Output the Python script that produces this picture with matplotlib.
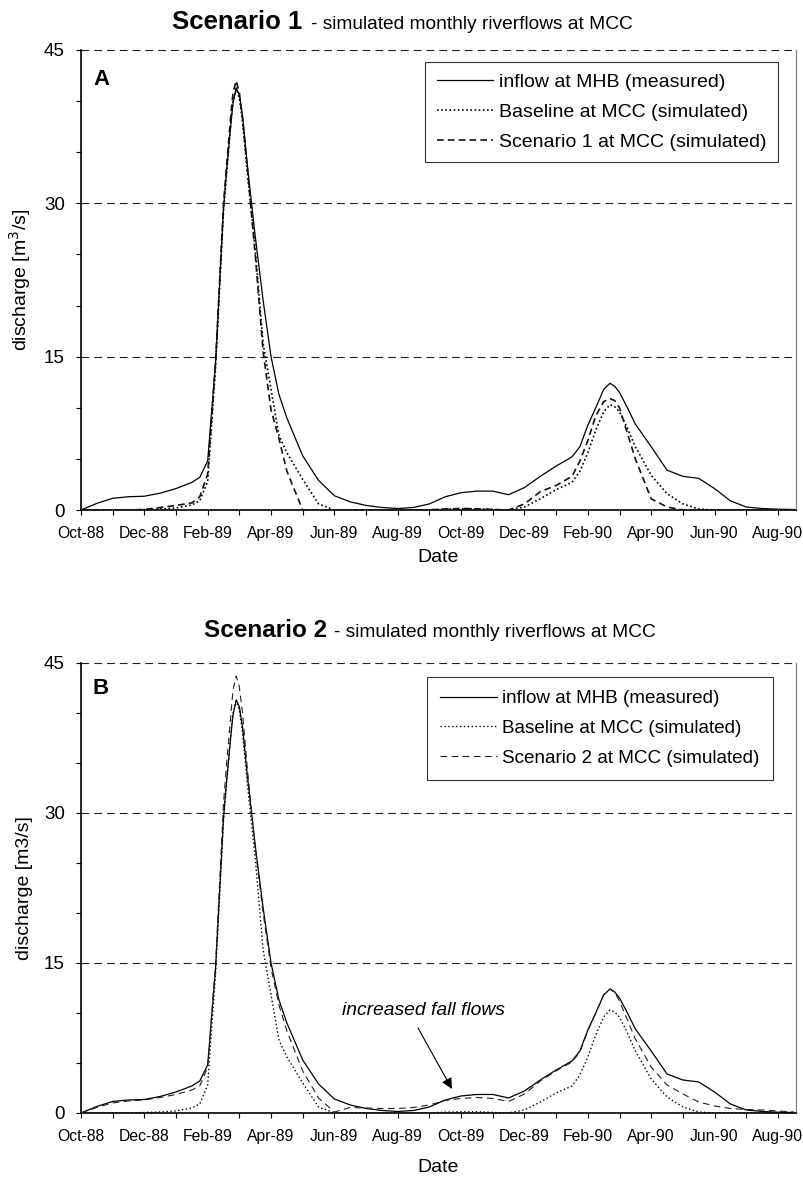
import matplotlib
matplotlib.use("Agg")
import matplotlib.pyplot as plt

plt.rcParams['font.family'] = ['Liberation Sans', 'DejaVu Sans']

# months since Oct-88 (x positions of the readings)
MONTHS = [0, 0.5, 1, 1.5, 2, 2.5, 3, 3.5, 3.75, 4, 4.25, 4.5, 4.6, 4.75, 4.8, 4.9, 5, 5.1, 5.25, 5.5, 5.75,
          6, 6.25, 6.5, 7, 7.5, 8, 8.5, 9, 9.5, 10, 10.5, 11, 11.5, 12, 12.5, 13, 13.5, 14,
          14.5, 15, 15.5, 15.75, 16, 16.25, 16.5, 16.7, 16.85, 17, 17.25, 17.5, 18, 18.5, 19, 19.5,
          20, 20.5, 21, 21.5, 22, 22.5]

INFLOW = [0, 0.65, 1.15, 1.3, 1.35, 1.65, 2.1, 2.7, 3.2, 4.8, 14.5, 29.5, 33.3, 38.3, 39.8, 41.3, 40.6, 38.6, 33.8, 26.8, 20.5,
          15.0, 11.3, 9.0, 5.3, 2.9, 1.4, 0.8, 0.45, 0.25, 0.15, 0.25, 0.6, 1.3, 1.7, 1.85, 1.85, 1.5, 2.2,
          3.3, 4.3, 5.2, 6.2, 8.3, 10.0, 11.8, 12.4, 12.1, 11.5, 10.0, 8.4, 6.2, 3.9, 3.3, 3.1,
          2.1, 0.9, 0.3, 0.15, 0.08, 0.05]

BASELINE = [0, 0, 0, 0, 0.05, 0.1, 0.2, 0.5, 0.9, 2.8, 14.0, 29.3, 33.0, 38.6, 40.0, 41.2, 40.3, 38.0, 33.0, 25.5, 16.3,
            11.8, 7.3, 5.6, 3.0, 0.6, 0, 0, 0, 0, 0, 0, 0.02, 0.08, 0.12, 0.12, 0.05, 0, 0.3,
            1.1, 2.0, 2.7, 3.8, 5.6, 7.8, 9.6, 10.3, 10.1, 9.6, 8.0, 6.2, 3.4, 1.6, 0.6, 0.1,
            0, 0, 0, 0, 0, 0]

SCEN1 = [0, 0, 0, 0, 0.05, 0.25, 0.45, 0.7, 1.3, 3.5, 14.5, 30.0, 33.8, 39.3, 40.8, 42.0, 40.8, 38.3, 33.5, 25.0, 15.5,
         9.8, 7.0, 3.8, 0, 0, 0, 0, 0, 0, 0, 0, 0.02, 0.1, 0.15, 0.12, 0.05, 0, 0.6,
         1.8, 2.4, 3.3, 4.8, 6.8, 9.2, 10.6, 10.9, 10.7, 10.0, 7.5, 5.0, 1.1, 0.3, 0, 0,
         0, 0, 0, 0, 0, 0]

SCEN2 = [0, 0.55, 1.0, 1.2, 1.3, 1.55, 1.85, 2.3, 2.7, 4.6, 15.0, 31.0, 35.0, 40.5, 42.3, 43.7, 42.6, 40.0, 34.5, 26.5, 20.0,
         14.5, 10.8, 8.2, 4.2, 1.5, 0.1, 0.55, 0.5, 0.45, 0.45, 0.55, 0.8, 1.25, 1.45, 1.55, 1.45, 1.15, 1.9,
         3.2, 4.2, 5.1, 6.1, 8.2, 10.0, 11.8, 12.4, 12.0, 11.2, 9.3, 7.4, 4.6, 2.8, 1.9, 1.1,
         0.7, 0.45, 0.35, 0.3, 0.2, 0.1]

TICK_POS = [0, 2, 4, 6, 8, 10, 12, 14, 16, 18, 20, 22]
TICK_LABELS = ['Oct-88', 'Dec-88', 'Feb-89', 'Apr-89', 'Jun-89', 'Aug-89',
               'Oct-89', 'Dec-89', 'Feb-90', 'Apr-90', 'Jun-90', 'Aug-90']
GRID_LEVELS = [15, 30, 45]


def style_axes(ax, ylab, date_y):
    ax.set_xlim(0, 22.57)
    ax.set_ylim(0, 45)
    ax.spines['top'].set_visible(False)
    ax.spines['right'].set_color('#808080')
    ax.spines['right'].set_linewidth(0.9)
    ax.spines['left'].set_linewidth(1.2)
    ax.spines['bottom'].set_linewidth(1.2)
    for lev in GRID_LEVELS:
        ax.axhline(lev, color='#222222', ls=(0, (7, 4.5)), lw=0.8, clip_on=False, zorder=1)
    ax.set_xticks(TICK_POS)
    ax.set_xticklabels(TICK_LABELS)
    ax.set_xticks(range(0, 23), minor=True)
    ax.set_yticks([0, 15, 30, 45])
    ax.set_yticks(range(0, 46, 5), minor=True)
    ax.tick_params(which='both', direction='out', length=3.6, width=0.8, color='black')
    ax.tick_params(axis='y', labelsize=13.5, pad=8)
    ax.tick_params(axis='x', labelsize=11.3, pad=8)
    ax.set_ylabel(ylab, fontsize=14)
    ax.yaxis.set_label_coords(-0.067, 0.5)
    ax.set_xlabel('Date', fontsize=14)
    ax.xaxis.set_label_coords(0.5, date_y)


fig = plt.figure(figsize=(8.04, 11.79), dpi=100)

# --- panel A
ax1 = fig.add_axes([0.1007, 0.5674, 0.8893, 0.3902])
ax1.plot(MONTHS, INFLOW, color='black', lw=0.9, label='inflow at MHB (measured)', zorder=3)
ax1.plot(MONTHS, BASELINE, color='black', lw=1.2, ls=(0, (1, 1.5)), label='Baseline at MCC (simulated)', zorder=3)
ax1.plot(MONTHS, SCEN1, color='#111111', lw=1.2, ls=(0, (4, 2.5)), label='Scenario 1 at MCC (simulated)', zorder=3)
style_axes(ax1, 'discharge [m$^3$/s]', -0.084)
leg = ax1.legend(loc='upper right', bbox_to_anchor=(0.9748, 0.974), borderaxespad=0, fontsize=14,
                 frameon=True, fancybox=False, edgecolor='black', handlelength=2.9,
                 handletextpad=0.28, labelspacing=0.62, borderpad=0.6)
leg.get_frame().set_linewidth(0.8)
ax1.text(0.0168, 0.924, 'A', transform=ax1.transAxes, fontsize=16, fontweight='bold')
fig.text(302 / 804, 0.975, 'Scenario 1', fontsize=18.5, fontweight='bold', ha='right', va='baseline')
fig.text(311 / 804, 0.975, '- simulated monthly riverflows at MCC', fontsize=13.8, ha='left', va='baseline')

# --- panel B
ax2 = fig.add_axes([0.1007, 0.0560, 0.8893, 0.3817])
ax2.plot(MONTHS, INFLOW, color='black', lw=0.9, label='inflow at MHB (measured)', zorder=3)
ax2.plot(MONTHS, BASELINE, color='black', lw=1.0, ls=(0, (1, 1.8)), label='Baseline at MCC (simulated)', zorder=3)
ax2.plot(MONTHS, SCEN2, color='#222222', lw=0.8, ls=(0, (6, 4)), label='Scenario 2 at MCC (simulated)', zorder=3)
style_axes(ax2, 'discharge [m3/s]', -0.102)
leg = ax2.legend(loc='upper right', bbox_to_anchor=(0.9678, 0.969), borderaxespad=0, fontsize=13.6,
                 frameon=True, fancybox=False, edgecolor='black', handlelength=3.0,
                 handletextpad=0.3, labelspacing=0.66, borderpad=0.7)
leg.get_frame().set_linewidth(0.8)
ax2.text(0.0165, 0.931, 'B', transform=ax2.transAxes, fontsize=16, fontweight='bold')
fig.text(327 / 804, 1 - 637 / 1179, 'Scenario 2', fontsize=17.5, fontweight='bold', ha='right', va='baseline')
fig.text(334 / 804, 1 - 637 / 1179, '- simulated monthly riverflows at MCC', fontsize=13.8, ha='left', va='baseline')

# annotation for the fall flows
ARROW_FROM = (10.64, 8.5)
ARROW_TO = (11.71, 2.4)
ax2.annotate('', xy=ARROW_TO, xytext=ARROW_FROM,
             arrowprops=dict(arrowstyle='-|>', color='black', lw=0.8, mutation_scale=16,
                             shrinkA=0, shrinkB=0))
ax2.text(10.81, 9.8, 'increased fall flows', fontsize=13.9, style='italic', ha='center', va='baseline')

fig.savefig('out.png', dpi=100)
